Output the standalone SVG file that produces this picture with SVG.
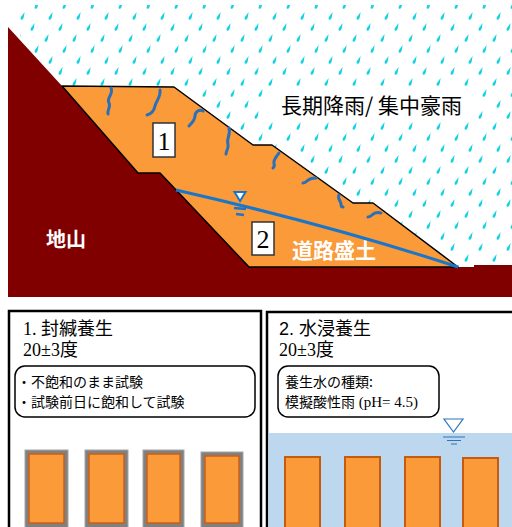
<svg xmlns="http://www.w3.org/2000/svg" width="512" height="527" viewBox="0 0 512 527">
  <style>
    .cjk { font-family: "Noto Sans CJK JP", "Noto Sans", sans-serif; }
    .serif { font-family: "Liberation Serif", "Noto Sans CJK JP", serif; }
    .label-w { fill: #ffffff; font-weight: bold; }
    .crack { fill: none; stroke: #2A6FB8; stroke-width: 3; stroke-linecap: round; }
    .wt { fill: none; stroke: #1B75C9; }
    .panel { fill: #ffffff; stroke: #000000; stroke-width: 2.5; }
    .note { fill: #ffffff; stroke: #000000; stroke-width: 1.5; }
    .spec-frame { fill: #808080; stroke: #A6A6A6; stroke-width: 1; }
    .spec-in { fill: #FA9A38; stroke: #CC5F14; stroke-width: 1.5; }
    .spec-wet { fill: #FA9A38; stroke: #C55A11; stroke-width: 2; }
  </style>
  <defs>
    <path id="drop" d="M2.6,-5 C2.2,-2 2,0 1.2,1.8 C0.5,3.3 -1.6,3 -1.4,1.2 C-1.2,-0.5 1,-2.5 2.6,-5Z" fill="#14D2E2"/>
    <pattern id="rain" patternUnits="userSpaceOnUse" x="0" y="0" width="56" height="44">
      <use href="#drop" x="8" y="6"/>
      <use href="#drop" x="36" y="6"/>
      <use href="#drop" x="22" y="17"/>
      <use href="#drop" x="50" y="17"/>
      <use href="#drop" x="4" y="28"/>
      <use href="#drop" x="32" y="28"/>
      <use href="#drop" x="18" y="39"/>
      <use href="#drop" x="46" y="39"/>
    </pattern>
    <clipPath id="sky">
      <path d="M20,5 L512,5 L512,265 L458,267 L373,203 L353,203 L272,145 L253,145 L174,87 L62,86 L20,40 Z"/>
    </clipPath>
  </defs>

  <rect width="512" height="527" fill="#ffffff"/>

  <!-- rainfall over the slope -->
  <g id="rain-area">
    <rect x="0" y="0" width="512" height="270" fill="url(#rain)" clip-path="url(#sky)"/>
    <rect x="270" y="86" width="205" height="36" fill="#ffffff"/>
    <text class="cjk" x="281" y="113" font-size="21" fill="#000000">長期降雨/ 集中豪雨</text>
  </g>

  <!-- natural ground -->
  <g id="ground">
    <path d="M8,27 L62,86 L138,173 L160,173 L249,267 L474,267 L474,265 L512,265 L512,297 L8,297 Z" fill="#800000"/>
    <text class="cjk label-w" x="46" y="247" font-size="20">地山</text>
  </g>

  <!-- road embankment -->
  <g id="embankment">
    <path d="M62,86 L174,87 L253,145 L272,145 L353,203 L373,203 L458,267 L249,267 L160,173 L138,173 Z" fill="#FA9A38" stroke="#000000" stroke-width="1.5" stroke-linejoin="round"/>
    <text class="cjk label-w" x="292" y="258" font-size="21">道路盛土</text>
  </g>

  <!-- infiltration traces -->
  <g id="cracks">
    <path class="crack" d="M111,88 C114,94 106,98 109,103 C111,107 107,110 108,114"/>
    <path class="crack" d="M160,90 C161,97 156,101 155,106 C154,111 151,114 147,115"/>
    <path class="crack" d="M203,111 C199,109 195,112 195,116 C195,120 192,123 189,126"/>
    <path class="crack" d="M229,128 C231,135 226,139 228,144 C229,148 226,151 226,154"/>
    <path class="crack" d="M279,153 C276,157 273,160 274,164 C275,166 274,167 273,168"/>
    <path class="crack" d="M316,178 C312,178 309,179 307,181 C306,182 305,183 303,183"/>
    <path class="crack" d="M339,195 C337,199 341,201 341,204 C341,206 342,207 343,207"/>
    <path class="crack" d="M381,213 C377,212 374,213 372,215 C371,216 370,217 368,217"/>
  </g>

  <!-- water table -->
  <g id="water-table">
    <path class="wt" d="M176,190 Q330,225 458,267" stroke-width="3"/>
    <path d="M234.5,192 L245.5,192 L240,201 Z" fill="#ffffff" stroke="#1B75C9" stroke-width="2"/>
    <path class="wt" d="M234,208 L246,209 M236,214 L244,215" stroke-width="2.5"/>
  </g>

  <!-- zone markers -->
  <g id="zone-1">
    <rect x="153" y="123" width="22" height="34" fill="#ffffff" stroke="#333333" stroke-width="1.5"/>
    <text class="serif" x="164" y="150" font-size="26" text-anchor="middle" fill="#000000">1</text>
  </g>
  <g id="zone-2">
    <rect x="252" y="222" width="22" height="33" fill="#ffffff" stroke="#333333" stroke-width="1.5"/>
    <text class="serif" x="263" y="248" font-size="26" text-anchor="middle" fill="#000000">2</text>
  </g>

  <!-- curing condition 1: sealed -->
  <g id="panel-sealed">
    <rect class="panel" x="9" y="311" width="252" height="230"/>
    <text class="serif" x="23" y="335" font-size="18">1. 封緘養生</text>
    <text class="serif" x="23" y="356" font-size="18">20±3度</text>
    <rect class="note" x="15" y="366" width="240" height="51" rx="10"/>
    <text class="cjk" x="17" y="386.5" font-size="14">・不飽和のまま試験</text>
    <text class="cjk" x="17" y="407" font-size="14">・試験前日に飽和して試験</text>
    <rect class="spec-frame" x="25" y="450" width="43" height="80"/>
    <rect class="spec-in" x="29" y="454" width="35" height="69"/>
    <rect class="spec-frame" x="85" y="450" width="43" height="80"/>
    <rect class="spec-in" x="89" y="454" width="35" height="69"/>
    <rect class="spec-frame" x="143" y="450" width="41" height="80"/>
    <rect class="spec-in" x="147" y="454" width="33" height="69"/>
    <rect class="spec-frame" x="201" y="452" width="42" height="78"/>
    <rect class="spec-in" x="205" y="456" width="34" height="67"/>
  </g>

  <!-- curing condition 2: submerged -->
  <g id="panel-submerged">
    <rect class="panel" x="267" y="312" width="260" height="230"/>
    <rect x="268.5" y="433" width="245" height="100" fill="#BDD7EE"/>
    <text x="279" y="335" font-size="18" font-family="Liberation Sans, Noto Sans CJK JP, sans-serif">2. 水浸養生</text>
    <text class="serif" x="279" y="356" font-size="18">20±3度</text>
    <rect class="note" x="278" y="366" width="161" height="51" rx="10"/>
    <text class="cjk" x="285" y="386.5" font-size="14">養生水の種類:</text>
    <text class="serif" x="285" y="407" font-size="15"><tspan class="cjk" font-size="14">模擬酸性雨</tspan> (pH= 4.5)</text>
    <path d="M444,419 L463,419 L453.5,432 Z" fill="none" stroke="#2E75B6" stroke-width="1.2"/>
    <path d="M443,437 L465,437 M447,440.5 L461,440.5 M451,444 L457,444" stroke="#2E75B6" stroke-width="1.2"/>
    <rect class="spec-wet" x="285" y="457" width="35" height="80"/>
    <rect class="spec-wet" x="345" y="457" width="35" height="80"/>
    <rect class="spec-wet" x="405" y="457" width="35" height="80"/>
    <rect class="spec-wet" x="463" y="458" width="35" height="80"/>
  </g>
</svg>
